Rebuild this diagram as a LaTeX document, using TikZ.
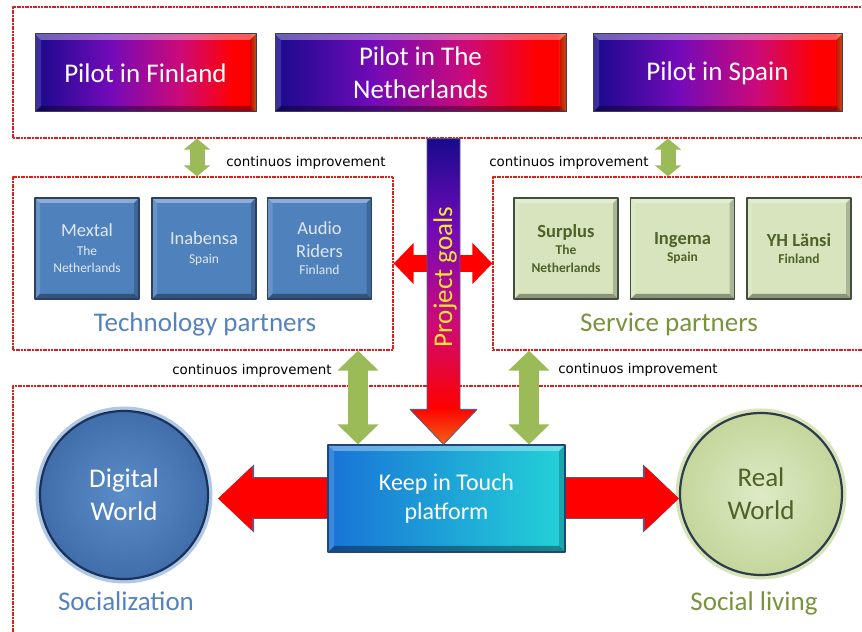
\documentclass[tikz,border=0pt]{standalone}
\usepackage{fontspec}
\setmainfont{Carlito}
\newfontfamily\notefont{DejaVu Sans}
\usetikzlibrary{arrows.meta}

\definecolor{pnavy}{RGB}{25,10,140}
\definecolor{ppurple}{RGB}{115,10,185}
\definecolor{pmagenta}{RGB}{205,10,120}
\definecolor{porange}{RGB}{240,100,20}
\definecolor{pedge}{RGB}{60,60,90}
\definecolor{boxred}{RGB}{220,30,30}
\definecolor{arrowedge}{RGB}{90,90,130}
\definecolor{techblue}{RGB}{79,129,189}
\definecolor{techedge}{RGB}{40,65,100}
\definecolor{techtext}{RGB}{225,232,242}
\definecolor{techlabel}{RGB}{84,130,190}
\definecolor{servfill}{RGB}{215,228,189}
\definecolor{servedge}{RGB}{65,80,60}
\definecolor{servtext}{RGB}{79,98,40}
\definecolor{servlabel}{RGB}{119,147,60}
\definecolor{arrowgreen}{RGB}{155,187,89}
\definecolor{kitblue}{RGB}{25,115,215}
\definecolor{kitcyan}{RGB}{35,210,215}
\definecolor{kitedge}{RGB}{30,70,120}
\definecolor{goalyellow}{RGB}{250,230,50}
\definecolor{dwinner}{RGB}{92,142,202}
\definecolor{dwouter}{RGB}{65,110,170}
\definecolor{dwedge}{RGB}{25,50,90}
\definecolor{dwglow}{RGB}{175,200,230}
\definecolor{rwinner}{RGB}{222,234,198}
\definecolor{rwouter}{RGB}{196,214,156}
\definecolor{rwedge}{RGB}{45,60,75}
\definecolor{rwglow}{RGB}{215,228,185}

\pgfdeclarehorizontalshading{pilotshade}{100bp}{color(0bp)=(pnavy); color(25bp)=(pnavy);
  color(42bp)=(ppurple); color(58bp)=(pmagenta); color(70bp)=(red); color(73.5bp)=(red);
  color(75bp)=(porange); color(100bp)=(porange)}
\pgfdeclareverticalshading{goalshade}{100bp}{color(0bp)=(porange); color(25bp)=(porange);
  color(31bp)=(red); color(45bp)=(pmagenta); color(60bp)=(ppurple); color(75bp)=(pnavy);
  color(100bp)=(pnavy)}

\newcommand{\firmname}[1]{{\fontsize{18.5bp}{22bp}\selectfont #1}}

\begin{document}
\begin{tikzpicture}[>=latex,line join=bevel,
  container/.style={draw=boxred,line width=1.3bp,dash pattern=on 2bp off 0.7bp,inner sep=0pt},
  bevelled/.style={path picture={
    \fill[white,opacity=.35] (path picture bounding box.north west) -- (path picture bounding box.north east)
      -- ([shift={(-#1,-#1)}]path picture bounding box.north east) -- ([shift={(#1,-#1)}]path picture bounding box.north west) -- cycle;
    \fill[black,opacity=.35] (path picture bounding box.south west) -- (path picture bounding box.south east)
      -- ([shift={(-#1,#1)}]path picture bounding box.south east) -- ([shift={(#1,#1)}]path picture bounding box.south west) -- cycle;
    \fill[white,opacity=.15] (path picture bounding box.north west) -- ([shift={(#1,-#1)}]path picture bounding box.north west)
      -- ([shift={(#1,#1)}]path picture bounding box.south west) -- (path picture bounding box.south west) -- cycle;
    \fill[black,opacity=.2] (path picture bounding box.north east) -- ([shift={(-#1,-#1)}]path picture bounding box.north east)
      -- ([shift={(-#1,#1)}]path picture bounding box.south east) -- (path picture bounding box.south east) -- cycle;}},
  pilot/.style={shade,shading=pilotshade,draw=pedge,line width=1bp,bevelled=6bp,text=white,align=center,
    font=\fontsize{27bp}{33bp}\selectfont,inner sep=0pt,minimum height=78bp},
  techpartner/.style={fill=techblue,draw=techedge,line width=1.2bp,bevelled=5bp,text=techtext,align=center,
    font=\fontsize{13.5bp}{17bp}\selectfont,inner sep=0pt,minimum width=104bp,minimum height=101bp},
  servpartner/.style={fill=servfill,draw=servedge,line width=1.2bp,bevelled=5bp,text=servtext,align=center,
    font=\bfseries\fontsize{13.5bp}{17bp}\selectfont,inner sep=0pt,minimum width=104bp,minimum height=101bp},
  world/.style={circle,inner sep=0pt,line width=2.2bp,align=center,font=\fontsize{27bp}{33bp}\selectfont},
  grouplabel/.style={anchor=base,font=\fontsize{27bp}{32bp}\selectfont},
  note/.style={anchor=base,font=\notefont\fontsize{13.4bp}{16bp}\selectfont},
  fatred/.style={line width=40bp,red,-{Triangle[length=34bp,width=62bp]},
    preaction={draw=arrowedge,line width=42bp,-{Triangle[length=36bp,width=66bp]}}},
  redboth/.style={line width=17bp,red,{Triangle[length=20bp,width=40bp]}-{Triangle[length=20bp,width=40bp]}},
  greensmall/.style={line width=15bp,arrowgreen,{Triangle[length=11bp,width=26bp]}-{Triangle[length=11bp,width=26bp]}},
  greenbig/.style={line width=20bp,arrowgreen,{Triangle[length=20bp,width=40bp]}-{Triangle[length=20bp,width=40bp]}},
]
\useasboundingbox (0,0) rectangle (862bp,632bp);
%% containers
\node (pilots) at (444bp,559.5bp) [container,minimum width=862bp,minimum height=131bp] {};
\node (tech) at (203bp,368.5bp) [container,minimum width=380bp,minimum height=173bp] {};
\node (service) at (684bp,368.5bp) [container,minimum width=382bp,minimum height=173bp] {};
\node (realm) at (444bp,116.5bp) [container,minimum width=862bp,minimum height=259bp] {};
%% pilots
\node (finland) at (145.5bp,559bp) [pilot,minimum width=221bp] {Pilot in Finland};
\node (netherlands) at (420.5bp,559bp) [pilot,minimum width=291bp] {Pilot in The\\Netherlands};
\node (spain) at (717.5bp,559bp) [pilot,minimum width=249bp] {Pilot in Spain};
%% partners
\node (mextal) at (87bp,383.5bp) [techpartner] {\firmname{Mextal}\\[2bp]The\\Netherlands};
\node (inabensa) at (204bp,383.5bp) [techpartner] {\firmname{Inabensa}\\[2bp]Spain};
\node (audio) at (319.5bp,383.5bp) [techpartner] {\firmname{Audio}\\[6bp]\firmname{Riders}\\Finland};
\node (surplus) at (566bp,383.5bp) [servpartner] {\firmname{Surplus}\\The\\[1bp]Netherlands};
\node (ingema) at (682.5bp,383.5bp) [servpartner] {\firmname{Ingema}\\Spain};
\node (yhlansi) at (799bp,383.5bp) [servpartner] {\firmname{YH Länsi}\\Finland};
\node (techname) at (205bp,300bp) [grouplabel,text=techlabel] {Technology partners};
\node (servname) at (669bp,300bp) [grouplabel,text=servlabel] {Service partners};
%% platform and worlds
\node (kit) at (446.5bp,133.5bp) [shade,left color=kitblue,right color=kitcyan,draw=kitedge,line width=1.2bp,
  bevelled=6bp,text=white,align=center,font=\fontsize{24bp}{29bp}\selectfont,inner sep=0pt,
  minimum width=237bp,minimum height=107bp] {Keep in Touch\\platform};
\node (digital) at (124bp,137bp) [world,inner color=dwinner,outer color=dwouter,draw=dwedge,
  preaction={draw=dwglow,line width=9bp},minimum size=168bp,text=white] {Digital\\World};
\node (real) at (761bp,138bp) [world,inner color=rwinner,outer color=rwouter,draw=rwedge,
  preaction={draw=rwglow,line width=9bp},minimum size=162bp,text=servtext] {Real\\World};
\node (socialization) at (126bp,22bp) [grouplabel,text=techlabel] {Socialization};
\node (living) at (754bp,22bp) [grouplabel,text=servlabel] {Social living};
%% arrows
\coordinate (col_g1) at (197bp,0);
\coordinate (col_g2) at (668bp,0);
\coordinate (col_g3) at (358bp,0);
\coordinate (col_g4) at (529bp,0);
\coordinate (goals_top) at (443.5bp,0 |- pilots.south);
\coordinate (goals_tip) at (443.5bp,0 |- kit.north);
\draw [greensmall] (col_g1 |- pilots.south) -- (col_g1 |- tech.north);
\draw [greensmall] (col_g2 |- pilots.south) -- (col_g2 |- service.north);
\draw [greenbig] (col_g3 |- tech.south) -- (col_g3 |- kit.north);
\draw [greenbig] (col_g4 |- service.south) -- (col_g4 |- kit.north);
\draw [redboth] (tech.east) -- (service.west);
\shade [shading=goalshade,draw=arrowedge,line width=0.8bp] ([xshift=-16.5bp]goals_top) -- ([xshift=16.5bp]goals_top)
  -- ([shift={(16.5bp,35bp)}]goals_tip) -- ([shift={(33.5bp,35bp)}]goals_tip) -- (goals_tip)
  -- ([shift={(-33.5bp,35bp)}]goals_tip) -- ([shift={(-16.5bp,35bp)}]goals_tip) -- cycle;
\node (goals) at (445bp,355bp) [rotate=90,text=goalyellow,font=\fontsize{27bp}{32bp}\selectfont] {Project goals};
\draw [fatred] (kit.west) -- ([xshift=9bp]kit.west -| digital.east);
\draw [fatred] (kit.east) -- (kit.east -| real.west);
%% labels
\node (note_1) at (306bp,465bp) [note] {continuos improvement};
\node (note_2) at (569bp,465bp) [note] {continuos improvement};
\node (note_3) at (252bp,257bp) [note] {continuos improvement};
\node (note_4) at (638bp,258bp) [note] {continuos improvement};
%
\end{tikzpicture}
\end{document}
